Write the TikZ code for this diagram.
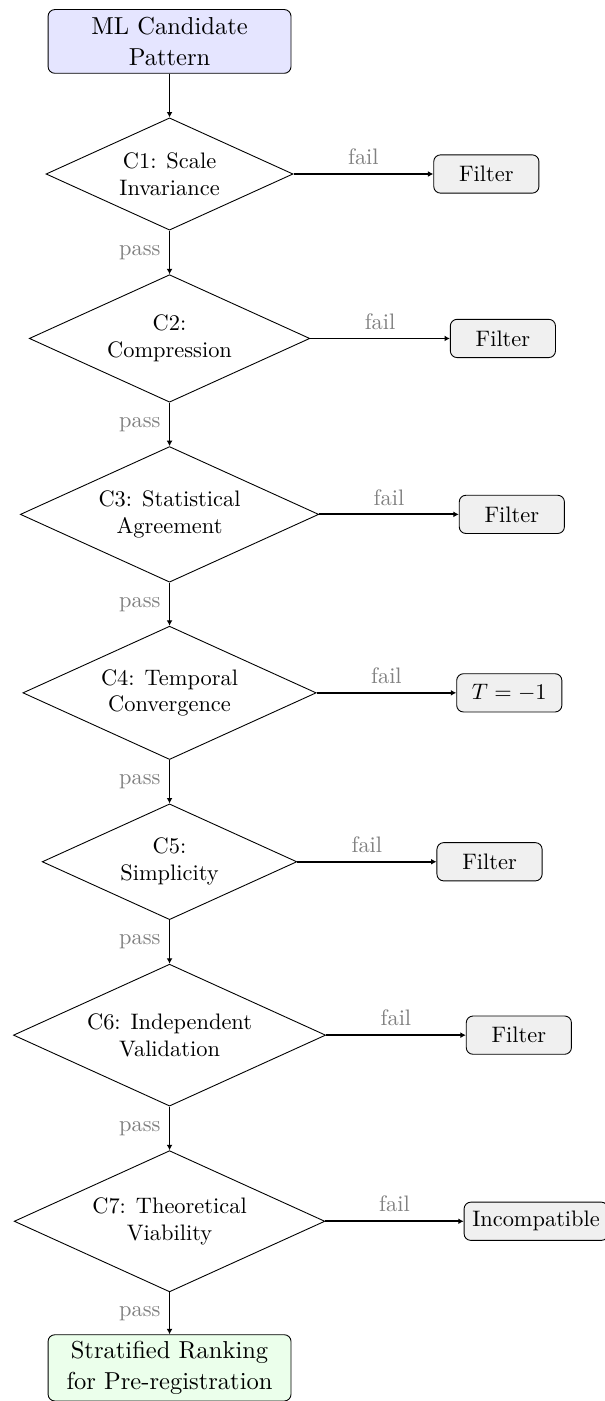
\documentclass[tikz,11pt,border=0pt]{standalone}
\usetikzlibrary{shapes.geometric,arrows.meta,positioning}

\tikzset{
    endbox/.style={rectangle, rounded corners=3pt, draw, text width=3.6cm, align=center, minimum height=1cm, inner sep=3pt},
    check/.style={diamond, draw, aspect=2.2, align=center, font=\small},
    failbox/.style={rectangle, rounded corners=3pt, draw, fill=gray!12, font=\small, minimum width=1.65cm, minimum height=0.6cm},
    flow/.style={thick, -{Latex[length=2.4pt,width=2.6pt]}},
    lbl/.style={font=\small, text=gray}
}

\begin{document}
\begin{tikzpicture}
        \useasboundingbox (0,0) rectangle (9.49,-21.98);
        % main column
        \node[endbox, fill=blue!10] (start) at (2.66,-0.65) {ML Candidate\\Pattern};
        \node[check] (c1) at (2.66,-2.73) {C1: Scale\\Invariance};
        \node[check] (c2) at (2.66,-5.31) {C2:\\Compression};
        \node[check] (c3) at (2.66,-8.07) {C3: Statistical\\Agreement};
        \node[check] (c4) at (2.66,-10.87) {C4: Temporal\\Convergence};
        \node[check] (c5) at (2.66,-13.52) {C5:\\Simplicity};
        \node[check] (c6) at (2.66,-16.24) {C6: Independent\\Validation};
        \node[check] (c7) at (2.66,-19.16) {C7: Theoretical\\Viability};
        \node[endbox, fill=green!8] (rank) at (2.66,-21.46) {Stratified Ranking\\for Pre-registration};
        % fail outcomes
        \node[failbox] (f1) at (7.63,-2.73) {Filter};
        \node[failbox] (f2) at (7.89,-5.31) {Filter};
        \node[failbox] (f3) at (8.03,-8.07) {Filter};
        \node[failbox] (f4) at (7.99,-10.87) {$T=-1$};
        \node[failbox] (f5) at (7.68,-13.52) {Filter};
        \node[failbox] (f6) at (8.14,-16.24) {Filter};
        \node[failbox] (f7) at (8.41,-19.16) {Incompatible};
        % arrows
        \draw[flow] (start) -- (c1);
        \draw[flow] (c1) -- node[lbl, left] {pass} (c2);
        \draw[flow] (c2) -- node[lbl, left] {pass} (c3);
        \draw[flow] (c3) -- node[lbl, left] {pass} (c4);
        \draw[flow] (c4) -- node[lbl, left] {pass} (c5);
        \draw[flow] (c5) -- node[lbl, left] {pass} (c6);
        \draw[flow] (c6) -- node[lbl, left] {pass} (c7);
        \draw[flow] (c7) -- node[lbl, left] {pass} (rank);
        \draw[flow] (c1) -- node[lbl, above] {fail} (f1);
        \draw[flow] (c2) -- node[lbl, above] {fail} (f2);
        \draw[flow] (c3) -- node[lbl, above] {fail} (f3);
        \draw[flow] (c4) -- node[lbl, above] {fail} (f4);
        \draw[flow] (c5) -- node[lbl, above] {fail} (f5);
        \draw[flow] (c6) -- node[lbl, above] {fail} (f6);
        \draw[flow] (c7) -- node[lbl, above] {fail} (f7);
    \end{tikzpicture}
\end{document}
